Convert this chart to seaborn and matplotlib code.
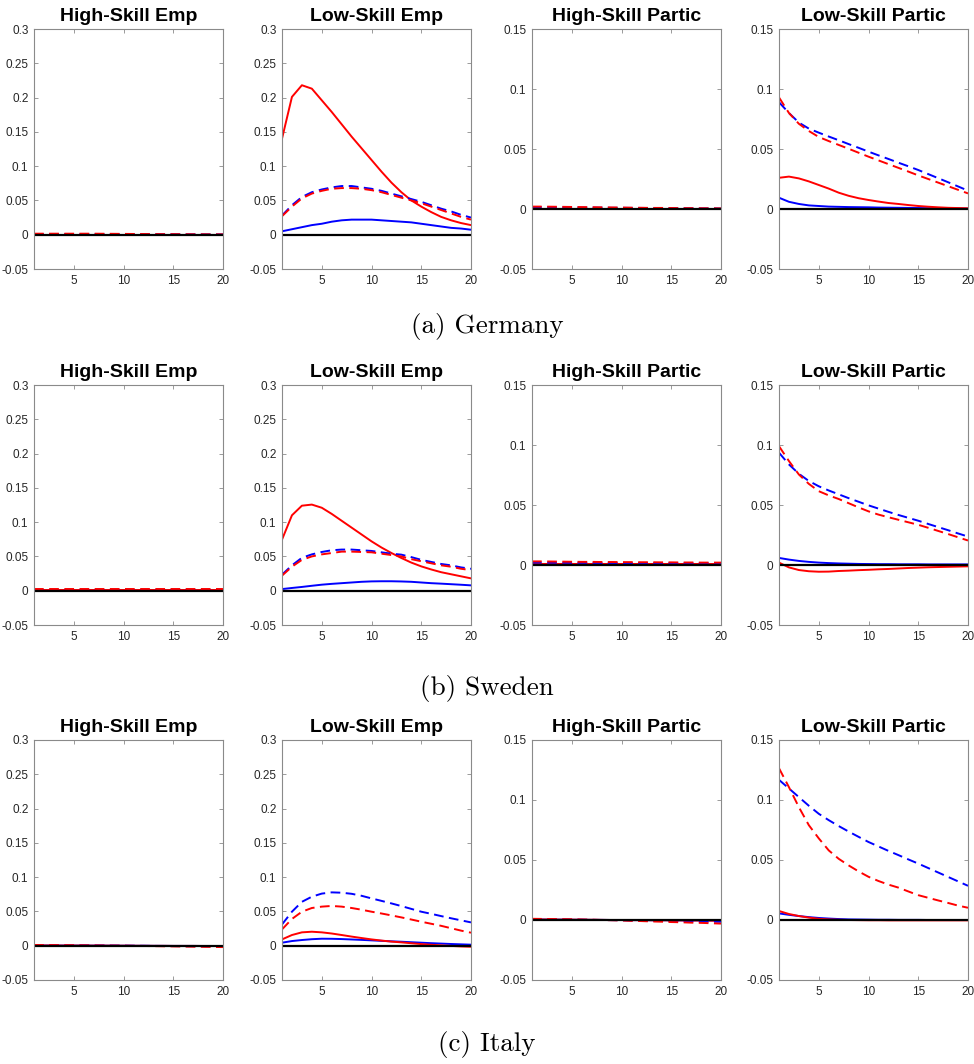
import numpy as np
import pandas as pd
import matplotlib
matplotlib.use("Agg")
import matplotlib.pyplot as plt
import seaborn as sns

periods = list(range(1, 21))
countries = ["(a) Germany", "(b) Sweden", "(c) Italy"]
titles = ["High-Skill Emp", "Low-Skill Emp", "High-Skill Partic", "Low-Skill Partic"]
emp_ticks = [-0.05, 0, 0.05, 0.1, 0.15, 0.2, 0.25, 0.3]
partic_ticks = [-0.05, 0, 0.05, 0.1, 0.15]
x_ticks = [5, 10, 15, 20]

# ---------------- Germany ----------------
de_hs_emp_blue_solid = [0.0002] * 20
de_hs_emp_red_solid = [0.0002] * 20
de_hs_emp_blue_dash = [0.001, 0.001, 0.001, 0.001, 0.001, 0.001, 0.001, 0.001, 0.001, 0.001,
                       0.0009, 0.0008, 0.0008, 0.0007, 0.0007, 0.0006, 0.0006, 0.0005, 0.0005, 0.0005]
de_hs_emp_red_dash = [0.0015, 0.0015, 0.0015, 0.0015, 0.0015, 0.0015, 0.0015, 0.0014, 0.0013, 0.0012,
                      0.0011, 0.001, 0.0009, 0.0008, 0.0008, 0.0007, 0.0006, 0.0006, 0.0005, 0.0005]

de_ls_emp_red_solid = [0.140, 0.201, 0.218, 0.213, 0.196, 0.179, 0.161, 0.143, 0.126, 0.109,
                       0.092, 0.076, 0.062, 0.050, 0.041, 0.033, 0.026, 0.021, 0.017, 0.014]
de_ls_emp_blue_dash = [0.028, 0.043, 0.055, 0.062, 0.066, 0.069, 0.071, 0.071, 0.069, 0.067,
                       0.064, 0.060, 0.056, 0.052, 0.048, 0.043, 0.038, 0.034, 0.029, 0.025]
de_ls_emp_red_dash = [0.027, 0.041, 0.053, 0.060, 0.064, 0.067, 0.068, 0.068, 0.067, 0.065,
                      0.062, 0.058, 0.054, 0.050, 0.046, 0.041, 0.036, 0.031, 0.026, 0.022]
de_ls_emp_blue_solid = [0.005, 0.008, 0.011, 0.014, 0.016, 0.019, 0.021, 0.022, 0.022, 0.022,
                        0.021, 0.020, 0.019, 0.018, 0.016, 0.014, 0.012, 0.010, 0.009, 0.0073]

de_hs_part_blue_solid = [0.0003] * 20
de_hs_part_red_solid = [0.0003] * 20
de_hs_part_blue_dash = [0.0015, 0.0015, 0.0014, 0.0014, 0.0013, 0.0012, 0.0012, 0.0011, 0.001, 0.001,
                        0.0009, 0.0009, 0.0008, 0.0007, 0.0007, 0.0006, 0.0006, 0.0005, 0.0005, 0.0004]
de_hs_part_red_dash = [0.002, 0.002, 0.0019, 0.0018, 0.0017, 0.0016, 0.0015, 0.0014, 0.0013, 0.0012,
                       0.0011, 0.001, 0.0009, 0.0009, 0.0008, 0.0007, 0.0007, 0.0006, 0.0006, 0.0005]

de_ls_part_red_dash = [0.093, 0.080, 0.071, 0.065, 0.060, 0.0566, 0.0534, 0.0502, 0.0469, 0.0436,
                       0.0405, 0.0374, 0.0343, 0.0312, 0.028, 0.025, 0.022, 0.019, 0.016, 0.013]
de_ls_part_blue_dash = [0.089, 0.080, 0.072, 0.067, 0.0636, 0.0604, 0.0573, 0.0541, 0.051, 0.0478,
                        0.0447, 0.0417, 0.0386, 0.0356, 0.0325, 0.0291, 0.0257, 0.0223, 0.0188, 0.0153]
de_ls_part_red_solid = [0.026, 0.027, 0.0255, 0.023, 0.020, 0.017, 0.0136, 0.011, 0.009, 0.0075,
                        0.0062, 0.005, 0.0042, 0.0033, 0.0025, 0.0019, 0.0014, 0.0010, 0.0008, 0.0006]
de_ls_part_blue_solid = [0.0094, 0.006, 0.0042, 0.003, 0.0025, 0.002, 0.0018, 0.0016, 0.0015, 0.0014,
                         0.0012, 0.0011, 0.001, 0.0009, 0.0008, 0.0007, 0.0006, 0.0005, 0.0004, 0.0003]

# ---------------- Sweden ----------------
se_hs_emp_blue_solid = [0.0004] * 20
se_hs_emp_red_solid = [0.0004] * 20
se_hs_emp_blue_dash = [0.0015] * 20
se_hs_emp_red_dash = [0.002] * 20

se_ls_emp_red_solid = [0.0745, 0.110, 0.124, 0.1256, 0.121, 0.112, 0.102, 0.092, 0.082, 0.072,
                       0.063, 0.055, 0.0477, 0.041, 0.0355, 0.031, 0.027, 0.024, 0.021, 0.018]
se_ls_emp_blue_dash = [0.0234, 0.037, 0.048, 0.053, 0.0565, 0.059, 0.060, 0.060, 0.059, 0.058,
                       0.056, 0.054, 0.0526, 0.049, 0.045, 0.042, 0.039, 0.037, 0.034, 0.032]
se_ls_emp_red_dash = [0.022, 0.035, 0.045, 0.050, 0.053, 0.055, 0.057, 0.057, 0.0565, 0.056,
                      0.054, 0.052, 0.050, 0.046, 0.043, 0.040, 0.037, 0.035, 0.032, 0.030]
se_ls_emp_blue_solid = [0.0024, 0.004, 0.0055, 0.0072, 0.0088, 0.010, 0.011, 0.012, 0.013, 0.0136,
                        0.0138, 0.0138, 0.0135, 0.013, 0.012, 0.011, 0.0103, 0.0095, 0.0087, 0.0078]

se_hs_part_blue_solid = [0.001] * 20
se_hs_part_red_solid = [0.0005] * 20
se_hs_part_blue_dash = [0.002, 0.002, 0.0019, 0.0019, 0.0018, 0.0018, 0.0018, 0.0017, 0.0017, 0.0017,
                        0.0016, 0.0016, 0.0016, 0.0016, 0.0015, 0.0015, 0.0015, 0.0015, 0.0015, 0.0015]
se_hs_part_red_dash = [0.003, 0.003, 0.0029, 0.0028, 0.0027, 0.0026, 0.0026, 0.0025, 0.0025, 0.0024,
                       0.0024, 0.0023, 0.0023, 0.0022, 0.0022, 0.0021, 0.0021, 0.002, 0.002, 0.002]

se_ls_part_red_dash = [0.099, 0.0866, 0.0754, 0.0676, 0.0615, 0.058, 0.055, 0.0515, 0.048, 0.0447,
                       0.042, 0.0398, 0.0377, 0.0356, 0.0335, 0.031, 0.0284, 0.0258, 0.0231, 0.0204]
se_ls_part_blue_dash = [0.0936, 0.0838, 0.076, 0.070, 0.0656, 0.0621, 0.0589, 0.0557, 0.0527, 0.0497,
                        0.047, 0.0443, 0.0417, 0.0393, 0.0369, 0.0342, 0.0316, 0.029, 0.0263, 0.0237]
se_ls_part_blue_solid = [0.0059, 0.0045, 0.0034, 0.0026, 0.002, 0.0016, 0.0013, 0.0011, 0.0009, 0.0008,
                         0.0007, 0.0007, 0.0006, 0.0006, 0.0006, 0.0005, 0.0005, 0.0005, 0.0005, 0.0005]
se_ls_part_red_solid = [0.002, -0.002, -0.0042, -0.0052, -0.0056, -0.0055, -0.005, -0.0047, -0.0043, -0.004,
                        -0.0036, -0.0033, -0.0029, -0.0025, -0.0022, -0.0019, -0.0017, -0.0015, -0.0013, -0.0011]

# ---------------- Italy ----------------
it_hs_emp_blue_solid = [0.0003, 0.0003, 0.0003, 0.0002, 0.0002, 0.0002, 0.0001, 0.0001, 0.0, 0.0,
                        -0.0001, -0.0001, -0.0002, -0.0002, -0.0003, -0.0003, -0.0003, -0.0004, -0.0004, -0.0004]
it_hs_emp_red_solid = [0.0003, 0.0003, 0.0003, 0.0002, 0.0002, 0.0002, 0.0001, 0.0001, 0.0, 0.0,
                       -0.0001, -0.0001, -0.0002, -0.0002, -0.0003, -0.0003, -0.0003, -0.0004, -0.0004, -0.0005]
it_hs_emp_blue_dash = [0.0008, 0.0008, 0.0007, 0.0006, 0.0005, 0.0004, 0.0003, 0.0002, 0.0001, 0.0,
                       -0.0001, -0.0002, -0.0003, -0.0004, -0.0005, -0.0006, -0.0007, -0.0008, -0.0009, -0.001]
it_hs_emp_red_dash = [0.001, 0.001, 0.0009, 0.0008, 0.0007, 0.0005, 0.0004, 0.0002, 0.0001, 0.0,
                      -0.0002, -0.0004, -0.0006, -0.0008, -0.001, -0.0012, -0.0014, -0.0016, -0.0018, -0.002]

it_ls_emp_blue_dash = [0.031, 0.0496, 0.064, 0.0715, 0.076, 0.0778, 0.0773, 0.0757, 0.0728, 0.069,
                       0.0654, 0.0617, 0.0578, 0.0537, 0.0496, 0.0465, 0.0432, 0.040, 0.037, 0.034]
it_ls_emp_red_dash = [0.0238, 0.039, 0.0496, 0.055, 0.057, 0.058, 0.057, 0.055, 0.0525, 0.0496,
                      0.047, 0.0442, 0.0413, 0.0382, 0.035, 0.032, 0.029, 0.0255, 0.022, 0.019]
it_ls_emp_red_solid = [0.0092, 0.0156, 0.0195, 0.0204, 0.0195, 0.0178, 0.0156, 0.0133, 0.0112, 0.0092,
                       0.0075, 0.006, 0.0049, 0.0036, 0.0024, 0.0014, 0.0005, -0.0003, -0.001, -0.0015]
it_ls_emp_blue_solid = [0.0044, 0.0068, 0.0083, 0.0095, 0.0102, 0.0101, 0.0097, 0.0091, 0.0085, 0.0078,
                        0.0071, 0.0064, 0.0058, 0.0051, 0.0044, 0.0037, 0.0031, 0.0025, 0.002, 0.0015]

it_hs_part_blue_solid = [0.0004, 0.0004, 0.0003, 0.0003, 0.0002, 0.0002, 0.0001, 0.0001, 0.0, 0.0,
                         -0.0001, -0.0001, -0.0002, -0.0002, -0.0002, -0.0003, -0.0003, -0.0003, -0.0004, -0.0004]
it_hs_part_red_solid = [0.0005, 0.0004, 0.0004, 0.0003, 0.0003, 0.0002, 0.0002, 0.0001, 0.0, 0.0,
                        -0.0001, -0.0001, -0.0002, -0.0002, -0.0003, -0.0003, -0.0004, -0.0004, -0.0005, -0.0005]
it_hs_part_blue_dash = [0.0006, 0.0005, 0.0005, 0.0004, 0.0003, 0.0002, 0.0001, 0.0, -0.0001, -0.0002,
                        -0.0004, -0.0005, -0.0006, -0.0007, -0.0008, -0.001, -0.0011, -0.0012, -0.0014, -0.0015]
it_hs_part_red_dash = [0.001, 0.0009, 0.0008, 0.0007, 0.0006, 0.0004, 0.0002, 0.0, -0.0002, -0.0004,
                       -0.0007, -0.0009, -0.0012, -0.0014, -0.0017, -0.0019, -0.0022, -0.0024, -0.0027, -0.003]

it_ls_part_red_dash = [0.1265, 0.1107, 0.094, 0.079, 0.068, 0.058, 0.051, 0.0455, 0.0405, 0.036,
                       0.0325, 0.0295, 0.027, 0.0238, 0.0207, 0.0185, 0.0163, 0.0142, 0.012, 0.0102]
it_ls_part_blue_dash = [0.1168, 0.1096, 0.1024, 0.0952, 0.0885, 0.0832, 0.0783, 0.0737, 0.0693, 0.0650,
                        0.0613, 0.0576, 0.0541, 0.0505, 0.0470, 0.0433, 0.0396, 0.0359, 0.0322, 0.0285]
it_ls_part_red_solid = [0.0075, 0.005, 0.0033, 0.002, 0.001, 0.0005, 0.0002, 0.0, -0.0001, -0.0002,
                        -0.0002, -0.0003, -0.0003, -0.0003, -0.0003, -0.0003, -0.0003, -0.0003, -0.0003, -0.0003]
it_ls_part_blue_solid = [0.0055, 0.0043, 0.0033, 0.0024, 0.0017, 0.0012, 0.0008, 0.0005, 0.0004, 0.0003,
                         0.0002, 0.0002, 0.0001, 0.0001, 0.0001, 0.0, 0.0, 0.0, 0.0, 0.0]

panels = [
    [  # Germany
        (de_hs_emp_blue_solid, de_hs_emp_red_solid, de_hs_emp_blue_dash, de_hs_emp_red_dash),
        (de_ls_emp_blue_solid, de_ls_emp_red_solid, de_ls_emp_blue_dash, de_ls_emp_red_dash),
        (de_hs_part_blue_solid, de_hs_part_red_solid, de_hs_part_blue_dash, de_hs_part_red_dash),
        (de_ls_part_blue_solid, de_ls_part_red_solid, de_ls_part_blue_dash, de_ls_part_red_dash),
    ],
    [  # Sweden
        (se_hs_emp_blue_solid, se_hs_emp_red_solid, se_hs_emp_blue_dash, se_hs_emp_red_dash),
        (se_ls_emp_blue_solid, se_ls_emp_red_solid, se_ls_emp_blue_dash, se_ls_emp_red_dash),
        (se_hs_part_blue_solid, se_hs_part_red_solid, se_hs_part_blue_dash, se_hs_part_red_dash),
        (se_ls_part_blue_solid, se_ls_part_red_solid, se_ls_part_blue_dash, se_ls_part_red_dash),
    ],
    [  # Italy
        (it_hs_emp_blue_solid, it_hs_emp_red_solid, it_hs_emp_blue_dash, it_hs_emp_red_dash),
        (it_ls_emp_blue_solid, it_ls_emp_red_solid, it_ls_emp_blue_dash, it_ls_emp_red_dash),
        (it_hs_part_blue_solid, it_hs_part_red_solid, it_hs_part_blue_dash, it_hs_part_red_dash),
        (it_ls_part_blue_solid, it_ls_part_red_solid, it_ls_part_blue_dash, it_ls_part_red_dash),
    ],
]

sns.set_theme(style="white")
plt.rcParams["font.family"] = ["Liberation Sans", "DejaVu Sans"]

W, H = 974, 1064
fig = plt.figure(figsize=(W / 100, H / 100), dpi=100)
fig.patch.set_facecolor("white")

col_left = [34, 282, 532, 779]
ax_w = 189
row_top = [29, 385, 740]
ax_h = 240
caption_y = [326, 689, 1045]

spine_col = "#8a8a8a"
tick_col = "#262626"
dash = (0, (5, 2.8))

for r in range(3):
    for c in range(4):
        ax = fig.add_axes([col_left[c] / W, 1 - (row_top[r] + ax_h) / H, ax_w / W, ax_h / H])
        bs, rs, bd, rd = panels[r][c]
        sns.lineplot(x=periods, y=bs, color=(0, 0, 1), lw=1.4, ax=ax, errorbar=None)
        sns.lineplot(x=periods, y=rs, color=(1, 0, 0), lw=1.4, ax=ax, errorbar=None)
        sns.lineplot(x=periods, y=bd, color=(0, 0, 1), lw=1.4, ax=ax, errorbar=None, linestyle=dash)
        sns.lineplot(x=periods, y=rd, color=(1, 0, 0), lw=1.4, ax=ax, errorbar=None, linestyle=dash)
        sns.lineplot(x=periods, y=[0] * len(periods), color="black", lw=1.6, ax=ax, errorbar=None)
        ax.set_xlim(1, 20)
        if c in (0, 1):
            ax.set_ylim(-0.05, 0.3)
            ax.set_yticks(emp_ticks)
            ax.set_yticklabels(["-0.05", "0", "0.05", "0.1", "0.15", "0.2", "0.25", "0.3"])
        else:
            ax.set_ylim(-0.05, 0.15)
            ax.set_yticks(partic_ticks)
            ax.set_yticklabels(["-0.05", "0", "0.05", "0.1", "0.15"])
        ax.set_xticks(x_ticks)
        ax.set_xticklabels([str(t) for t in x_ticks])
        ax.tick_params(direction="in", length=3, width=0.6, colors=spine_col,
                       labelcolor=tick_col, labelsize=8.5, top=True, right=True,
                       left=True, bottom=True, pad=4)
        for s in ax.spines.values():
            s.set_color(spine_col)
            s.set_linewidth(0.8)
            s.set_visible(True)
        ax.set_xlabel("")
        ax.set_ylabel("")
        ax.set_title(titles[c], fontsize=14, fontweight="bold", color="black", pad=6)
        ax.grid(False)
    fig.text(0.5, 1 - caption_y[r] / H, countries[r], ha="center", va="center",
             fontsize=19.5, family=["cmr10", "DejaVu Serif"], color="black")

fig.savefig("out.png", dpi=100, facecolor="white")
